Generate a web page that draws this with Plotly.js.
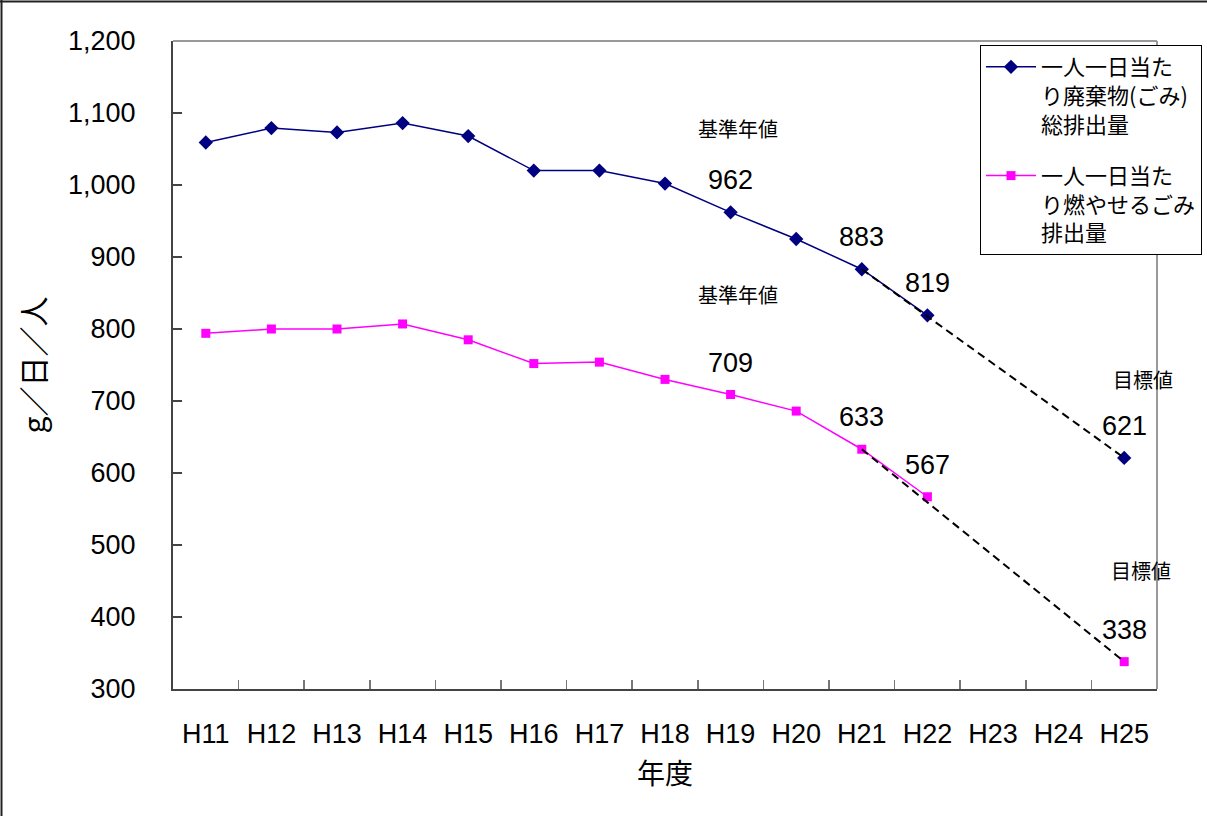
<!DOCTYPE html>
<html>
<head>
<meta charset="utf-8">
<script src="https://cdn.plot.ly/plotly-3.0.1.min.js"></script>
<style>
  html, body { margin: 0; padding: 0; background: #fff; }
  #chart { width: 1207px; height: 816px; }
</style>
</head>
<body>
<div id="chart"></div>
<script>
// Fiscal years (Heisei)
const years = ['H11', 'H12', 'H13', 'H14', 'H15', 'H16', 'H17', 'H18', 'H19', 'H20', 'H21', 'H22', 'H23', 'H24', 'H25'];

// Per-person, per-day total waste (g/day/person); H25 is the target
const totalWaste = [1059, 1079, 1073, 1086, 1068, 1020, 1020, 1002, 962, 925, 883, 819, null, null, 621];

// Per-person, per-day burnable waste (g/day/person); H25 is the target
const burnableWaste = [794, 800, 800, 807, 785, 752, 754, 730, 709, 686, 633, 567, null, null, 338];

// Years whose values are printed above the markers
const labelledYears = ['H19', 'H21', 'H22', 'H25'];

// Projection from H21 to the target year
const projectionYears = ['H21', 'H25'];

const totalName = '一人一日当た<br>り廃棄物(ごみ)<br>総排出量';
const burnableName = '一人一日当た<br>り燃やせるごみ<br>排出量';

const JP = '"Noto Sans CJK JP", "Noto Sans", sans-serif';
const NUM = '"Liberation Sans", Arial, sans-serif';

const pick = (arr, yrs) => yrs.map(y => arr[years.indexOf(y)]);

const traces = [
  {
    x: years, y: totalWaste, name: totalName, legendgroup: 'total',
    type: 'scatter', mode: 'lines+markers',
    line: { color: '#000080', width: 1.5 },
    marker: { symbol: 'diamond', size: 11, color: '#000080' },
    cliponaxis: false
  },
  {
    x: years, y: burnableWaste, name: burnableName, legendgroup: 'burnable',
    type: 'scatter', mode: 'lines+markers',
    line: { color: '#FF00FF', width: 1.5 },
    marker: { symbol: 'square', size: 9, color: '#FF00FF' },
    cliponaxis: false
  },
  {
    x: projectionYears, y: pick(totalWaste, projectionYears),
    type: 'scatter', mode: 'lines', showlegend: false, hoverinfo: 'skip',
    line: { color: '#000000', width: 2, dash: '8px,5px' }
  },
  {
    x: projectionYears, y: pick(burnableWaste, projectionYears),
    type: 'scatter', mode: 'lines', showlegend: false, hoverinfo: 'skip',
    line: { color: '#000000', width: 2, dash: '8px,5px' }
  }
];

const margin = { l: 173, r: 50, t: 41, b: 127, autoexpand: false };
const W = 1207, H = 816;
const plotW = W - margin.l - margin.r;
const plotH = H - margin.t - margin.b;
const px2x = px => (px - margin.l) / plotW;
const py2y = py => 1 - (py - margin.t) / plotH;

// Value labels above the marked points
const valueLabels = [];
[totalWaste, burnableWaste].forEach(series => {
  labelledYears.forEach(yr => {
    const v = series[years.indexOf(yr)];
    valueLabels.push({
      x: yr, y: v, xref: 'x', yref: 'y', text: String(v),
      showarrow: false, yshift: 32,
      font: { family: NUM, size: 27, color: '#000' }
    });
  });
});

// Notes for the reference year and the target year
const notes = [
  { x: 8.11, y: 1078, text: '基準年値' },
  { x: 8.11, y: 848, text: '基準年値' },
  { x: 14.29, y: 730, text: '目標値' },
  { x: 14.25, y: 464, text: '目標値' }
].map(n => ({
  x: n.x, y: n.y, xref: 'x', yref: 'y', text: n.text, showarrow: false,
  font: { family: JP, size: 20, color: '#000' }
}));

const layout = {
  width: W, height: H,
  margin: margin,
  paper_bgcolor: '#fff', plot_bgcolor: '#fff',
  showlegend: true,
  legend: {
    x: px2x(980), y: py2y(45), xanchor: 'left', yanchor: 'top',
    bgcolor: '#fff', bordercolor: '#000', borderwidth: 1,
    font: { family: JP, size: 22, color: '#000' },
    valign: 'top', traceorder: 'grouped', tracegroupgap: 20,
    itemwidth: 50
  },
  xaxis: {
    type: 'category', range: [-0.5, 14.5], fixedrange: true,
    showgrid: false, zeroline: false,
    showline: true, linecolor: '#444', linewidth: 2,
    ticks: 'inside', tickson: 'boundaries', ticklen: 9, tickcolor: '#777', tickwidth: 1.5,
    ticklabelstandoff: 20,
    tickfont: { family: NUM, size: 27, color: '#000' },
    title: { text: '年度', font: { family: JP, size: 28, color: '#000' }, standoff: 16 },
    automargin: false
  },
  yaxis: {
    range: [300, 1200], dtick: 100, tickformat: ',d', fixedrange: true,
    showgrid: false, zeroline: false,
    showline: true, linecolor: '#444', linewidth: 2,
    ticks: 'inside', ticklen: 9, tickcolor: '#444', tickwidth: 1.5,
    ticklabelstandoff: 30,
    tickfont: { family: NUM, size: 27, color: '#000' },
    title: { text: 'g／日／人', font: { family: JP, size: 30, color: '#000' }, standoff: 14 },
    automargin: false
  },
  shapes: [
    // plot-area frame (top and right edges in light gray)
    { type: 'line', xref: 'paper', yref: 'paper', x0: 0, x1: 1, y0: 1, y1: 1,
      line: { color: '#999', width: 2 } },
    { type: 'line', xref: 'paper', yref: 'paper', x0: 1, x1: 1, y0: 0, y1: 1,
      line: { color: '#999', width: 2 } },
    // chart border (left and top)
    { type: 'line', xref: 'paper', yref: 'paper', x0: px2x(1.5), x1: px2x(1.5), y0: py2y(0), y1: py2y(H),
      line: { color: '#222', width: 2 } },
    { type: 'line', xref: 'paper', yref: 'paper', x0: px2x(0), x1: px2x(W), y0: py2y(1.5), y1: py2y(1.5),
      line: { color: '#222', width: 2 } }
  ],
  annotations: valueLabels.concat(notes)
};

Plotly.newPlot('chart', traces, layout, { displayModeBar: false, staticPlot: true });
</script>
</body>
</html>
